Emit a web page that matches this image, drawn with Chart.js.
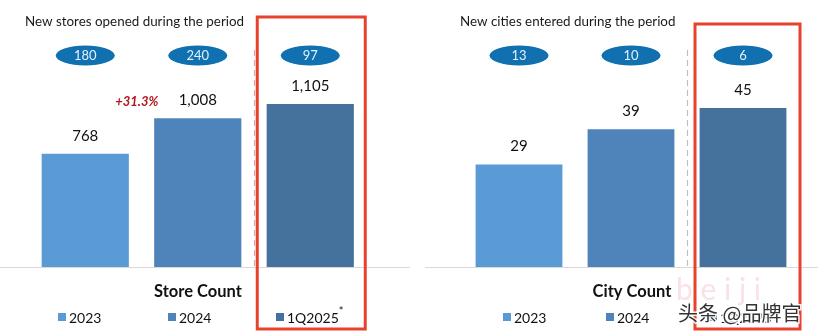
<!DOCTYPE html>
<html>
<head>
<meta charset="utf-8">
<script src="https://cdn.jsdelivr.net/npm/chart.js@4/dist/chart.umd.min.js"></script>
<style>
  html, body { margin: 0; padding: 0; background: #fff; width: 818px; height: 334px; overflow: hidden; }
  canvas { position: absolute; top: 0; }
  #c1 { left: 0; }
  #c2 { left: 410px; }
</style>
</head>
<body>
<canvas id="c1" width="410" height="334"></canvas>
<canvas id="c2" width="408" height="334"></canvas>
<script>
// ---- data ----
const categories = ['2023', '2024', '1Q2025'];
const storeCounts = [768, 1008, 1105];
const newStoresOpened = [180, 240, 97];
const cityCounts = [29, 39, 45];
const newCitiesEntered = [13, 10, 6];
const storeGrowthLabel = '+31.3%';
const storeTitle = 'New stores opened during the period';
const cityTitle = 'New cities entered during the period';
const storeAxisTitle = 'Store Count';
const cityAxisTitle = 'City Count';

// ---- styles ----
const barColors = ['#5B9BD5', '#4F84BA', '#44729C'];
const FONT = 'Lato, "Open Sans", sans-serif';

function fmt(n) { return n.toLocaleString('en-US'); }

function makePlugin(cfg) {
  return {
    id: 'decor',
    afterDatasetsDraw(chart) {
      const ctx = chart.ctx;
      const meta = chart.getDatasetMeta(0);
      const area = chart.chartArea;
      ctx.save();
      // baseline
      ctx.strokeStyle = '#D9D9D9';
      ctx.lineWidth = 1;
      ctx.beginPath();
      ctx.moveTo(cfg.baseX0, area.bottom + 0.5);
      ctx.lineTo(cfg.baseX1, area.bottom + 0.5);
      ctx.stroke();
      // dashed separator
      ctx.strokeStyle = cfg.dashColor;
      ctx.setLineDash([6, 4]);
      ctx.lineWidth = 1.2;
      ctx.beginPath();
      ctx.moveTo(cfg.dashX, 50);
      ctx.lineTo(cfg.dashX, area.bottom);
      ctx.stroke();
      ctx.setLineDash([]);
      // title
      ctx.fillStyle = '#1a1a1a';
      ctx.font = '13.4px ' + FONT;
      ctx.textAlign = 'left';
      ctx.textBaseline = 'middle';
      ctx.fillText(cfg.title, cfg.titleX, 22);
      // ellipses and value labels
      meta.data.forEach((bar, i) => {
        ctx.fillStyle = '#1170B0';
        ctx.beginPath();
        ctx.ellipse(bar.x, 55.5, 29.5, 10, 0, 0, Math.PI * 2);
        ctx.fill();
        ctx.fillStyle = '#E3F1FB';
        ctx.font = '13px ' + FONT;
        ctx.textAlign = 'center';
        ctx.fillText(String(cfg.ellipseVals[i]), bar.x, 56);
        ctx.fillStyle = '#111';
        ctx.font = '15px ' + FONT;
        ctx.fillText(fmt(cfg.values[i]), bar.x, bar.y - 18);
      });
      // growth label
      if (cfg.growth) {
        ctx.fillStyle = '#B0181E';
        ctx.font = 'italic bold 13px ' + FONT;
        ctx.textAlign = 'center';
        ctx.fillText(cfg.growth, meta.data[1].x - 61, meta.data[1].y - 17);
      }
      // axis title
      ctx.fillStyle = '#111';
      ctx.font = 'bold 16.5px ' + FONT;
      ctx.textAlign = 'center';
      ctx.fillText(cfg.axisTitle, cfg.axisTitleX, 292);
      // legend
      ctx.font = '14px ' + FONT;
      ctx.textAlign = 'left';
      categories.forEach((c, i) => {
        const x = cfg.legendX[i];
        ctx.fillStyle = barColors[i];
        ctx.fillRect(x - 4, 313, 8, 8);
        ctx.fillStyle = '#111';
        ctx.fillText(c, x + 7, 318);
        if (i === 2) {
          const w = ctx.measureText(c).width;
          ctx.font = '11px ' + FONT;
          ctx.fillText('*', x + 7 + w, 311);
          ctx.font = '14px ' + FONT;
        }
      });
      // red highlight box
      const b3 = meta.data[2];
      ctx.strokeStyle = '#E8412C';
      ctx.lineWidth = 3;
      ctx.strokeRect(b3.x + cfg.boxL, cfg.boxTop, cfg.boxR - cfg.boxL, 329 - cfg.boxTop);
      // watermark
      if (cfg.watermark) {
        ctx.fillStyle = 'rgba(240,170,180,0.35)';
        ctx.font = '30px ' + FONT;
        ctx.textAlign = 'left';
        ctx.fillText('b e i j i', 266, 290);
        ctx.font = '20px "Noto Sans CJK SC", sans-serif';
        ctx.lineWidth = 3;
        ctx.strokeStyle = 'rgba(255,255,255,0.9)';
        ctx.strokeText(cfg.watermark, 268, 313);
        ctx.fillStyle = '#333';
        ctx.fillText(cfg.watermark, 268, 313);
      }
      ctx.restore();
    }
  };
}

function makeChart(id, values, max, padding, cfg) {
  return new Chart(document.getElementById(id), {
    type: 'bar',
    data: {
      labels: categories,
      datasets: [{
        data: values,
        backgroundColor: barColors,
        borderWidth: 0,
        barPercentage: 0.775,
        categoryPercentage: 1
      }]
    },
    options: {
      responsive: false,
      animation: false,
      devicePixelRatio: 1,
      layout: { padding },
      plugins: { legend: { display: false }, tooltip: { enabled: false } },
      scales: {
        x: { display: false },
        y: { display: false, min: 0, max }
      }
    },
    plugins: [makePlugin(cfg)]
  });
}

makeChart('c1', storeCounts, 1607, { left: 29, right: 43.5, top: 30, bottom: 67 }, {
  title: storeTitle, titleX: 25, ellipseVals: newStoresOpened, values: storeCounts,
  growth: storeGrowthLabel, axisTitle: storeAxisTitle, axisTitleX: 198,
  legendX: [62, 172, 280], baseX0: 0, baseX1: 410, dashX: 254.5, dashColor: '#E9A3A3',
  boxL: -53, boxR: 55, boxTop: 17
});

makeChart('c2', cityCounts, 67.1, { left: 53, right: 19, top: 30, bottom: 67 }, {
  title: cityTitle, titleX: 50, ellipseVals: newCitiesEntered, values: cityCounts,
  growth: null, axisTitle: cityAxisTitle, axisTitleX: 222,
  legendX: [97, 200, 303], baseX0: 15, baseX1: 408, dashX: 277.5, dashColor: '#BFBFBF',
  boxL: -48, boxR: 57, boxTop: 24, watermark: '头条 @品牌官'
});
</script>
</body>
</html>
